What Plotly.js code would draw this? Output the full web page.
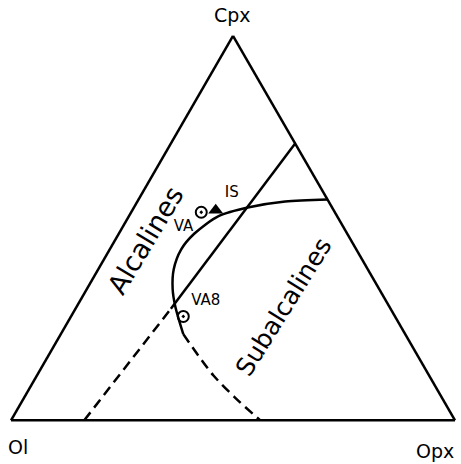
<!DOCTYPE html>
<html>
<head>
<meta charset="utf-8">
<script src="https://cdn.plot.ly/plotly-3.0.1.min.js"></script>
<style>
  html, body { margin: 0; padding: 0; background: #fff; }
  #chart { width: 461px; height: 464px; }
</style>
</head>
<body>
<div id="chart"></div>
<script>
// vertex names (a = top, b = bottom left, c = bottom right)
var vertexNames = ["Cpx", "Ol", "Opx"];

// straight divide, Ol-Opx side up to Cpx-Opx side (percent)
var lineDashA = [0, 29];
var lineDashB = [83.5, 49.5];
var lineDashC = [16.5, 21.5];
var lineSolidA = [29, 72];
var lineSolidB = [49.5, 0];
var lineSolidC = [21.5, 28];

// curved boundary, solid part from the Cpx-Opx side
var curveA = [57.4, 56.9, 55.4, 53.1, 48.5, 44.4, 39.3, 34.2, 29.6, 22.4];
var curveB = [0, 9.8, 18.7, 26.7, 34.5, 39.5, 43.7, 46.5, 48.2, 50.0];
var curveC = [42.6, 33.3, 25.9, 20.2, 17.0, 16.1, 17.0, 19.3, 22.2, 27.6];

// curved boundary, dashed part down to Ol-Opx side
var curveDashA = [22.4, 16.8, 11.7, 5.9, 0];
var curveDashB = [50.0, 49.4, 48.6, 46.6, 43.9];
var curveDashC = [27.6, 33.8, 39.7, 47.5, 56.1];

// samples
var openNames = ["VA", "VA8"];
var openA = [54.1, 27.0];
var openB = [30.1, 47.7];
var openC = [15.8, 25.3];
var openPos = ["bottom left", "top right"];

var isNames = ["IS"];
var isA = [54.6];
var isB = [26.6];
var isC = [18.8];

var ink = "#000";
var fontFam = "DejaVu Sans, sans-serif";

function lineTrace(a, b, c, dash, shape) {
  return {
    type: "scatterternary",
    mode: "lines",
    a: a, b: b, c: c,
    line: {color: ink, width: 2.5, dash: dash, shape: shape || "linear", smoothing: 0.8},
    hoverinfo: "skip",
    showlegend: false
  };
}

var traces = [
  lineTrace(lineDashA, lineDashB, lineDashC, "10px,6px"),
  lineTrace(lineSolidA, lineSolidB, lineSolidC, "solid"),
  lineTrace(curveA, curveB, curveC, "solid", "spline"),
  lineTrace(curveDashA, curveDashB, curveDashC, "10px,6px", "spline"),
  {
    type: "scatterternary",
    mode: "markers+text",
    a: openA, b: openB, c: openC,
    text: openNames,
    textposition: openPos,
    textfont: {family: fontFam, size: 15, color: ink},
    marker: {symbol: "circle-open-dot", size: 11, color: ink, line: {color: ink, width: 2}},
    showlegend: false
  },
  {
    type: "scatterternary",
    mode: "markers+text",
    a: isA, b: isB, c: isC,
    text: isNames,
    textposition: "top right",
    textfont: {family: fontFam, size: 15, color: ink},
    marker: {symbol: "triangle-up", size: 13, color: ink},
    showlegend: false
  }
];

function axisStyle() {
  return {
    title: {text: ""},
    showline: true,
    linecolor: ink,
    linewidth: 2.5,
    showgrid: false,
    showticklabels: false,
    ticks: "",
    min: 0
  };
}

function label(text, px, py, size, angle) {
  return {
    text: text, xref: "paper", yref: "paper",
    x: px / 461, y: 1 - py / 464,
    xanchor: "center", yanchor: "middle",
    showarrow: false, textangle: angle || 0,
    font: {size: size}
  };
}

var layout = {
  width: 461,
  height: 464,
  margin: {l: 0, r: 0, t: 0, b: 0},
  paper_bgcolor: "#fff",
  font: {family: fontFam, color: ink},
  ternary: {
    sum: 100,
    domain: {x: [0.0239, 0.987], y: [0.0586, 0.9586]},
    bgcolor: "#fff",
    aaxis: axisStyle(),
    baxis: axisStyle(),
    caxis: axisStyle()
  },
  annotations: [
    label(vertexNames[0], 232, 15, 19),
    label(vertexNames[1], 18, 447, 19),
    label(vertexNames[2], 435, 451, 19),
    label("Alcalines", 145, 240, 27, -59),
    label("Subalcalines", 283, 307, 25, -58)
  ]
};

Plotly.newPlot("chart", traces, layout, {displayModeBar: false, staticPlot: true});
</script>
</body>
</html>
